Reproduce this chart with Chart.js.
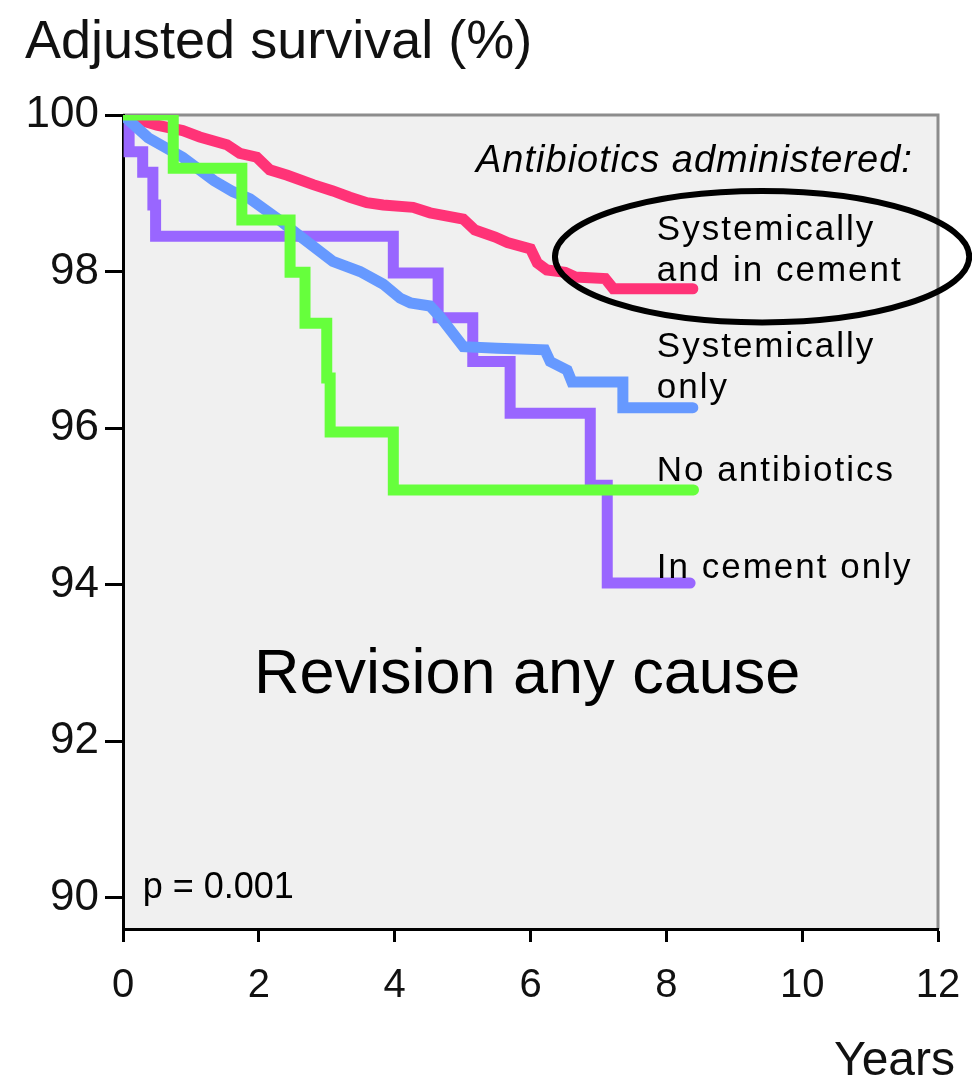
<!DOCTYPE html>
<html>
<head>
<meta charset="utf-8">
<script src="https://cdn.jsdelivr.net/npm/chart.js@4.4.1/dist/chart.umd.min.js"></script>
<style>
  html, body { margin: 0; padding: 0; background: #fff; }
  canvas { display: block; }
</style>
</head>
<body>
<canvas id="survivalChart" width="972" height="1081"></canvas>
<script>
// Curves: years vs adjusted survival (%)
const bothYears = [0, 0.5, 0.88, 1.13, 1.53, 1.72, 1.97, 2.16, 2.42, 2.8, 3.09, 3.34, 3.59, 3.83, 4.27, 4.52, 5.01, 5.18, 5.48, 5.66, 6.0, 6.1, 6.24, 6.51, 6.66, 7.1, 7.22, 8.39];
const bothSurvival = [100, 99.87, 99.8, 99.72, 99.62, 99.51, 99.46, 99.3, 99.23, 99.11, 99.03, 98.95, 98.88, 98.85, 98.82, 98.75, 98.67, 98.53, 98.44, 98.37, 98.29, 98.11, 98.02, 97.99, 97.93, 97.91, 97.78, 97.78];

const systemicYears = [0, 0.37, 0.88, 1.34, 1.62, 1.87, 2.3, 2.61, 3.09, 3.49, 3.83, 4.08, 4.23, 4.52, 4.67, 5.01, 5.51, 6.21, 6.29, 6.54, 6.61, 7.36, 7.36, 8.39];
const systemicSurvival = [100, 99.71, 99.46, 99.16, 99.02, 98.93, 98.66, 98.45, 98.13, 98.0, 97.84, 97.66, 97.6, 97.56, 97.42, 97.04, 97.02, 97.0, 96.85, 96.74, 96.59, 96.59, 96.26, 96.26];

// step curves: each point is (time of drop, survival after the drop)
const noneYears = [0, 0.74, 1.75, 2.46, 2.68, 3.0, 3.05, 3.98, 8.4];
const noneSurvival = [100, 99.32, 98.66, 97.99, 97.34, 96.64, 95.95, 95.21, 95.21];

const cementYears = [0, 0.09, 0.29, 0.44, 0.48, 3.98, 4.64, 5.15, 5.7, 6.88, 7.13, 8.35];
const cementSurvival = [100, 99.53, 99.27, 98.85, 98.45, 97.98, 97.41, 96.85, 96.19, 95.27, 94.02, 94.02];

const xTicks = [0, 2, 4, 6, 8, 10, 12];
const yTicks = [90, 92, 94, 96, 98, 100];
const groupLabels = [["Systemically", "and in cement"], ["Systemically", "only"], ["No antibiotics"], ["In cement only"]];

const FONT = '"Liberation Sans", Arial, Helvetica, sans-serif';

function toPoints(xs, ys) {
  return xs.map((x, i) => ({ x: x, y: ys[i] }));
}

// where the texts sit, in data units
const labelLeft = 7.86;
const labelBaselines = [[98.40, 97.88], [96.91, 96.39], [95.33], [94.09]];

const decorations = {
  id: "decorations",
  beforeDraw(chart) {
    const { ctx, chartArea: a } = chart;
    ctx.save();
    ctx.fillStyle = "#f0f0f0";
    ctx.fillRect(a.left, a.top, a.right - a.left, a.bottom - a.top);
    ctx.strokeStyle = "#8c8c8c";
    ctx.lineWidth = 3;
    ctx.beginPath();
    ctx.moveTo(a.left, a.top);
    ctx.lineTo(a.right, a.top);
    ctx.lineTo(a.right, a.bottom);
    ctx.stroke();
    ctx.restore();
  },
  afterDatasetsDraw(chart) {
    const { ctx, scales: { x, y } } = chart;
    ctx.save();
    ctx.fillStyle = "#000";
    ctx.textBaseline = "alphabetic";

    // heading of the group labels
    ctx.font = "italic 38px " + FONT;
    ctx.letterSpacing = "1px";
    ctx.textAlign = "right";
    ctx.fillText("Antibiotics administered:", x.getPixelForValue(11.63), y.getPixelForValue(99.27));

    // group labels
    ctx.font = "35px " + FONT;
    ctx.letterSpacing = "2px";
    ctx.textAlign = "left";
    groupLabels.forEach((lines, i) => {
      lines.forEach((line, j) => {
        ctx.fillText(line, x.getPixelForValue(labelLeft), y.getPixelForValue(labelBaselines[i][j]));
      });
    });
    ctx.letterSpacing = "0px";

    // ring around the top group
    const cx = x.getPixelForValue(9.41), cy = y.getPixelForValue(98.19);
    const rx = x.getPixelForValue(9.41 + 3.05) - cx;
    const ry = y.getPixelForValue(98.19 - 0.84) - cy;
    ctx.strokeStyle = "#000";
    ctx.lineWidth = 6;
    ctx.beginPath();
    ctx.ellipse(cx, cy, rx, ry, 0, 0, Math.PI * 2);
    ctx.stroke();

    ctx.font = "63px " + FONT;
    ctx.textAlign = "center";
    ctx.fillText("Revision any cause", x.getPixelForValue(5.95), y.getPixelForValue(92.62));

    ctx.font = "36px " + FONT;
    ctx.textAlign = "left";
    ctx.fillText("p = 0.001", x.getPixelForValue(0.29), y.getPixelForValue(90.0));
    ctx.restore();
  },
  afterDraw(chart) {
    const { ctx } = chart;
    ctx.save();
    ctx.fillStyle = "#111";
    ctx.font = "54px " + FONT;
    ctx.textAlign = "left";
    ctx.fillText("Adjusted survival (%)", 25, 58);
    ctx.font = "48px " + FONT;
    ctx.textAlign = "right";
    ctx.fillText("Years", 955, 1075);
    ctx.restore();
  }
};

const lineStyle = {
  pointRadius: 0,
  borderWidth: 11,
  fill: false,
  tension: 0,
  borderCapStyle: "round",
  borderJoinStyle: "miter"
};

new Chart(document.getElementById("survivalChart"), {
  type: "line",
  data: {
    datasets: [
      { label: "No antibiotics", data: toPoints(noneYears, noneSurvival), borderColor: "#66ff3c", stepped: true, ...lineStyle },
      { label: "Systemically only", data: toPoints(systemicYears, systemicSurvival), borderColor: "#6699ff", ...lineStyle },
      { label: "In cement only", data: toPoints(cementYears, cementSurvival), borderColor: "#9966ff", stepped: true, ...lineStyle },
      { label: "Systemically and in cement", data: toPoints(bothYears, bothSurvival), borderColor: "#ff3377", ...lineStyle }
    ]
  },
  options: {
    responsive: false,
    animation: false,
    devicePixelRatio: 1,
    layout: { padding: { top: 115, right: 34, left: 0, bottom: 0 } },
    plugins: { legend: { display: false }, tooltip: { enabled: false } },
    scales: {
      x: {
        type: "linear",
        min: 0,
        max: 12,
        afterBuildTicks: (s) => { s.ticks = xTicks.map(v => ({ value: v })); },
        afterFit: (s) => { s.height = 152; s.paddingLeft = 0; s.paddingRight = 0; },
        grid: { drawOnChartArea: false, drawTicks: true, tickLength: 13, tickWidth: 3, tickColor: "#000" },
        border: { display: true, color: "#000", width: 3 },
        ticks: { color: "#111", padding: 20, font: { family: FONT, size: 40 }, maxRotation: 0 }
      },
      y: {
        type: "linear",
        min: 89.6,
        max: 100,
        afterBuildTicks: (s) => { s.ticks = yTicks.map(v => ({ value: v })); },
        afterFit: (s) => { s.width = 123; s.paddingTop = 0; s.paddingBottom = 0; },
        grid: { drawOnChartArea: false, drawTicks: true, tickLength: 18, tickWidth: 3, tickColor: "#000" },
        border: { display: true, color: "#000", width: 3 },
        ticks: { color: "#111", padding: 6, font: { family: FONT, size: 44 } }
      }
    }
  },
  plugins: [decorations]
});
</script>
</body>
</html>
